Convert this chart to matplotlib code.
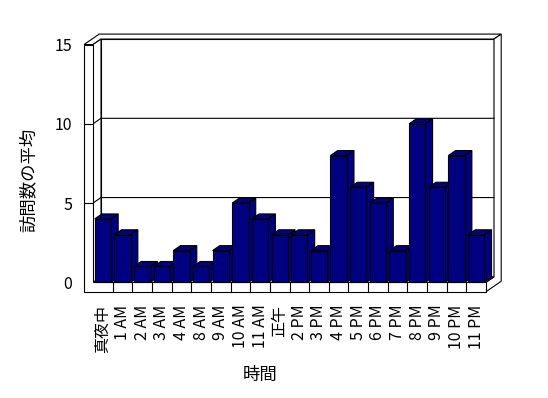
import matplotlib
matplotlib.use('Agg')
import matplotlib.pyplot as plt
from matplotlib.patches import Polygon

plt.rcParams['font.family'] = ['Noto Sans CJK JP', 'DejaVu Sans']

# データ
hours = ['真夜中', '1 AM', '2 AM', '3 AM', '4 AM', '8 AM', '9 AM', '10 AM', '11 AM', '正午',
         '2 PM', '3 PM', '4 PM', '5 PM', '6 PM', '7 PM', '8 PM', '9 PM', '10 PM', '11 PM']
visits = [4, 3, 1, 1, 2, 1, 2, 5, 4, 3, 3, 2, 8, 6, 5, 2, 10, 6, 8, 3]
yticks = [0, 5, 10, 15]

W, H = 548, 398
fig = plt.figure(figsize=(W / 100, H / 100), dpi=100)
fig.patch.set_facecolor('white')

# 前面の枠 (ピクセル)
x0, x1 = 93, 486
y0 = 282.3
ppu = 15.85
ax = fig.add_axes([x0 / W, (H - y0) / H, (x1 - x0) / W, 15 * ppu / H])
n = len(hours)
ax.set_xlim(-0.5, n - 0.5)
ax.set_ylim(0, 15)
for s in ax.spines.values():
    s.set_visible(False)
ax.set_facecolor('none')

# 奥行きのずらし (データ単位)
pxx = (x1 - x0) / n
DX = 8 / pxx
DY = 5.5 / ppu
xl = -0.5 - 9 / pxx       # 左の壁の厚み
t = 9.4 / ppu             # 床の厚み
xr = n - 0.5
top = 15


def P(x, y, z):
    return (x + z * DX, y + z * DY)


def poly(pts, fc='white', lw=0.8, z=1):
    ax.add_patch(Polygon(pts, closed=True, facecolor=fc, edgecolor='black',
                         lw=lw, clip_on=False, zorder=z, joinstyle='miter'))


# 奥の壁
poly([P(-0.5, 0, 1), P(xr, 0, 1), P(xr, top, 1), P(-0.5, top, 1)])
# 壁の上面
poly([P(xl, top, 0), P(-0.5, top, 0), P(-0.5, top, 1), P(xr, top, 1),
      P(xr, top, 1.9), P(xl, top, 1.9)])
# 右端の面
poly([P(xr, top, 1), P(xr, top, 1.9), P(xr, -t, 1.9), P(xr, -t, 0),
      P(xr, 0, 0), P(xr, 0, 1)])
# 床の上面
poly([P(-0.5, 0, 0), P(xr, 0, 0), P(xr, 0, 1), P(-0.5, 0, 1)])
# 左の壁の内側
poly([P(-0.5, 0, 0), P(-0.5, 0, 1), P(-0.5, top, 1), P(-0.5, top, 0)])

# 目盛線
for v in yticks[1:-1]:
    a = P(-0.5, v, 1)
    b = P(xr, v, 1)
    ax.plot([-0.5, a[0], b[0]], [v, a[1], b[1]], color='black', lw=0.8,
            clip_on=False, zorder=2)

# 前面 (左の壁と床)
poly([P(xl, top, 0), P(-0.5, top, 0), P(-0.5, 0, 0), P(xr, 0, 0),
      P(xr, -t, 0), P(xl, -t, 0)], z=3)
for v in yticks[1:-1]:
    ax.plot([xl, -0.5], [v, v], color='black', lw=0.8, clip_on=False, zorder=4)
for k in range(1, n):
    ax.plot([k - 0.5, k - 0.5], [0, -t], color='black', lw=0.8, clip_on=False, zorder=4)

# 棒
bw = 0.83
d = 0.9
navy = '#000080'
for i, v in enumerate(visits):
    zz = 10 + i
    l, r = i - bw / 2, i + bw / 2
    poly([P(r, 0, 0), P(r, 0, d), P(r, v, d), P(r, v, 0)], fc=navy, z=zz)
    poly([P(l, v, 0), P(r, v, 0), P(r, v, d), P(l, v, d)], fc=navy, z=zz)
    poly([P(l, 0, 0), P(r, 0, 0), P(r, v, 0), P(l, v, 0)], fc=navy, z=zz)

ax.set_xticks(range(n))
ax.set_xticklabels(hours, rotation=90, fontsize=11.5, va='top', ha='center')
ax.set_yticks(yticks)
ax.set_yticklabels([str(v) for v in yticks], fontsize=11.5)
ax.tick_params(axis='x', length=0, pad=16)
ax.tick_params(axis='y', length=0, pad=15)

fig.text(29 / W, 1 - 180 / H, '訪問数の平均', rotation=90, ha='center', va='center',
         fontsize=12.5)
fig.text(260 / W, 1 - 375 / H, '時間', ha='center', va='center', fontsize=12.5)

fig.savefig('out.png', dpi=100, facecolor='white')
